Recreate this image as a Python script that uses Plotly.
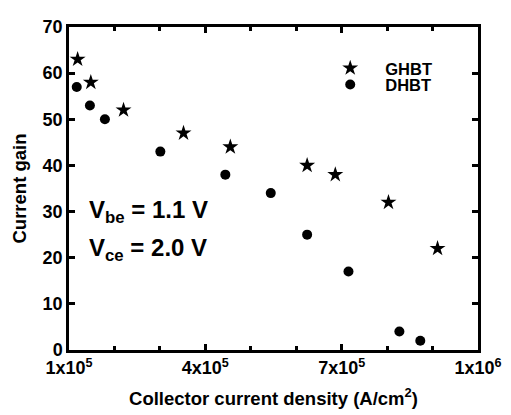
import plotly.graph_objects as go

ghbt_x = [1.19e5, 1.48e5, 2.2e5, 3.52e5, 4.55e5, 6.24e5, 6.86e5, 8.03e5, 9.11e5]
ghbt_y = [63, 58, 52, 47, 44, 40, 38, 32, 22]
dhbt_x = [1.17e5, 1.46e5, 1.79e5, 3.01e5, 4.44e5, 5.44e5, 6.24e5, 7.15e5, 8.27e5, 8.73e5]
dhbt_y = [57, 53, 50, 43, 38, 34, 25, 17, 4, 2]

x_tickvals = [1e5, 4e5, 7e5, 1e6]
x_ticktext = ["1x10<sup>5</sup>", "4x10<sup>5</sup>", "7x10<sup>5</sup>", "1x10<sup>6</sup>"]
x_minor = [2e5, 3e5, 5e5, 6e5, 8e5, 9e5]
y_tickvals = [0, 10, 20, 30, 40, 50, 60, 70]

FONT = "Arial"

fig = go.Figure()
fig.add_trace(go.Scatter(x=ghbt_x, y=ghbt_y, mode="markers", name="GHBT", legend="legend",
                         marker=dict(symbol="star", size=12, color="black")))
fig.add_trace(go.Scatter(x=dhbt_x, y=dhbt_y, mode="markers", name="DHBT", legend="legend2",
                         marker=dict(symbol="circle", size=10, color="black")))

axis_common = dict(showline=True, linecolor="black", linewidth=2.5, mirror="ticks",
                   ticks="inside", tickcolor="black", tickwidth=2.5, ticklen=6,
                   showgrid=False, zeroline=False,
                   tickfont=dict(family=FONT, size=18, color="black", weight=700))

fig.update_xaxes(range=[1e5, 1e6], tickmode="array", tickvals=x_tickvals, ticktext=x_ticktext,
                 minor=dict(tickmode="array", tickvals=x_minor, ticks="inside", ticklen=4,
                            tickwidth=2.5, tickcolor="black"),
                 title=dict(text="Collector current density (A/cm<sup>2</sup>)",
                            font=dict(family=FONT, size=18.5, color="black", weight=700),
                            standoff=15),
                 **axis_common)
fig.update_yaxes(range=[0, 70], tickmode="array", tickvals=y_tickvals,
                 title=dict(text="Current gain",
                            font=dict(family=FONT, size=18.5, color="black", weight=700),
                            standoff=12),
                 **axis_common)

fig.add_annotation(xref="paper", yref="paper", x=0.045, y=0.43, xanchor="left", yanchor="middle",
                   text="V<sub>be</sub> = 1.1 V", showarrow=False,
                   font=dict(family=FONT, size=24, color="black", weight=700))
fig.add_annotation(xref="paper", yref="paper", x=0.045, y=0.31, xanchor="left", yanchor="middle",
                   text="V<sub>ce</sub> = 2.0 V", showarrow=False,
                   font=dict(family=FONT, size=24, color="black", weight=700))

leg_common = dict(xanchor="left", yanchor="middle", bgcolor="rgba(0,0,0,0)",
                  font=dict(family=FONT, size=16.5, color="black", weight=700),
                  itemwidth=60, tracegroupgap=0)

fig.update_layout(
    width=503, height=407,
    margin=dict(l=61, r=33, t=9, b=65),
    paper_bgcolor="white", plot_bgcolor="white",
    showlegend=True,
    legend=dict(x=0.602, y=0.872, **leg_common),
    legend2=dict(x=0.602, y=0.821, **leg_common),
)

fig.write_html("out.html")
